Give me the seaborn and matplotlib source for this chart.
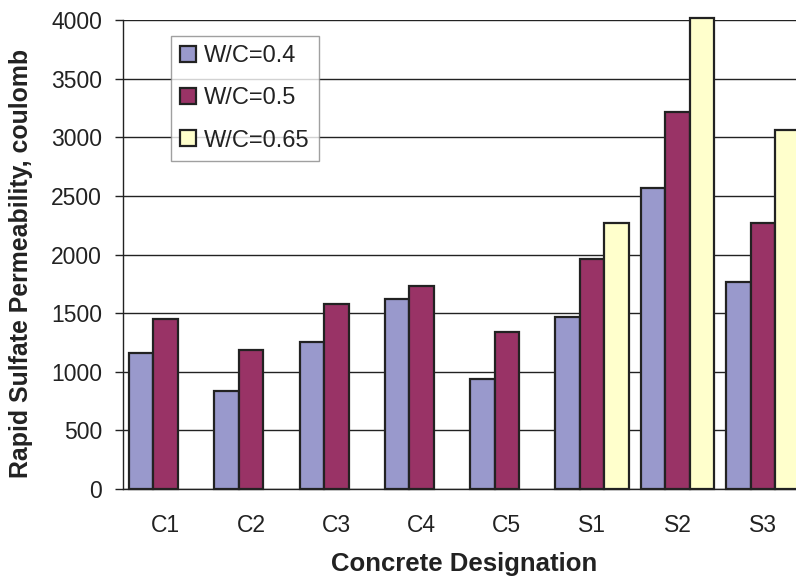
import matplotlib
matplotlib.use("Agg")
import matplotlib.pyplot as plt
import seaborn as sns
import pandas as pd
import numpy as np

categories = ["C1", "C2", "C3", "C4", "C5", "S1", "S2", "S3"]
series_names = ["W/C=0.4", "W/C=0.5", "W/C=0.65"]
wc_04 = [1162, 838, 1256, 1620, 935, 1470, 2570, 1768]
wc_05 = [1450, 1183, 1580, 1734, 1336, 1964, 3218, 2266]
wc_065 = [np.nan, np.nan, np.nan, np.nan, np.nan, 2266, 4020, 3062]
colors = ["#9999CC", "#993366", "#FFFFCC"]
y_ticks = list(range(0, 4001, 500))

rows = []
for name, vals in zip(series_names, [wc_04, wc_05, wc_065]):
    for c, v in zip(categories, vals):
        rows.append({"cat": c, "series": name, "value": v})
df = pd.DataFrame(rows)

sns.set_style("white")
plt.rcParams["font.family"] = ["Liberation Sans", "DejaVu Sans"]

fig = plt.figure(figsize=(7.96, 5.78), dpi=100)
ax = fig.add_axes([123/796, 89/578, (805.5-123)/796, 469/578])

sns.barplot(data=df, x="cat", y="value", hue="series", order=categories,
            hue_order=series_names, palette=colors, width=0.862,
            edgecolor="#222222", linewidth=1.6, saturation=1, ax=ax,
            errorbar=None, zorder=3)
for p in ax.patches:
    p.set_clip_on(False)

ax.set_ylim(0, 4000)
ax.set_xlim(-0.5, len(categories) - 0.5)
ax.set_yticks(y_ticks)
ax.yaxis.grid(True, color="#222222", linewidth=1.0, zorder=0)
ax.set_axisbelow(True)
for s in ["top", "right"]:
    ax.spines[s].set_visible(False)
for s in ["left", "bottom"]:
    ax.spines[s].set_color("#222222")
    ax.spines[s].set_linewidth(1.0)

ax.set_xticks(np.arange(len(categories)))
ax.set_xticklabels(categories)
ax.set_xticks(np.arange(len(categories) + 1) - 0.5, minor=True)
ax.tick_params(axis="x", which="major", length=0, pad=18, labelsize=16.5, colors="#222222")
ax.tick_params(axis="x", which="minor", length=5, width=1, color="#222222", direction="out")
ax.tick_params(axis="y", which="major", length=6, width=1, pad=9, labelsize=16.5,
               colors="#222222", left=True, direction="out")

ax.set_xlabel("Concrete Designation", fontsize=18.5, fontweight="bold", color="#222222")
ax.xaxis.set_label_coords(0.5, -0.134)
ax.set_ylabel("Rapid Sulfate Permeability, coulomb", fontsize=17.9, fontweight="bold",
              color="#222222")
ax.yaxis.set_label_coords(-0.132, 0.481)

handles, labels = ax.get_legend_handles_labels()
leg = ax.legend(handles, labels, loc="upper left", bbox_to_anchor=(0.0703, 0.966),
                borderaxespad=0, fontsize=17, frameon=True, fancybox=False,
                handlelength=0.65, handleheight=0.65, handletextpad=0.35,
                labelspacing=0.85, borderpad=0.4, edgecolor="#888888")
leg.get_frame().set_linewidth(1.0)
for h in leg.legend_handles:
    h.set_edgecolor("#222222")
    h.set_linewidth(1.6)
for t in leg.get_texts():
    t.set_color("#222222")

fig.savefig("out.png", dpi=100)
